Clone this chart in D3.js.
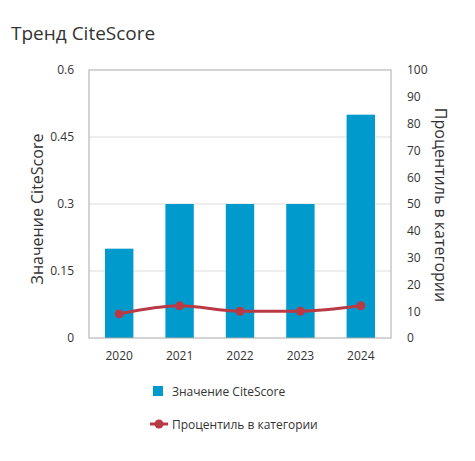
<!DOCTYPE html>
<html>
<head>
  <meta charset='utf-8'>
  <script src='https://d3js.org/d3.v7.min.js'></script>
  <style>
    body { margin: 0; background: #fff; }
    svg text { font-family: 'Open Sans', 'Noto Sans', sans-serif; fill: #333; }
  </style>
</head>
<body>
<script>
  'use strict';
  var years = ['2020', '2021', '2022', '2023', '2024'];
  var citeScore = [0.2, 0.3, 0.3, 0.3, 0.5];
  var percentile = [9, 12, 10, 10, 12];
  var leftTicks = [0, 0.15, 0.3, 0.45, 0.6];
  var rightTicks = [0, 10, 20, 30, 40, 50, 60, 70, 80, 90, 100];

  var W = 475, H = 461;
  var plot = { left: 89, right: 391, top: 70, bottom: 338 };

  var svg = d3.select('body').append('svg')
    .attr('width', W)
    .attr('height', H);

  svg.append('text')
    .attr('x', 11)
    .attr('y', 40)
    .style('font-size', '19px')
    .text('Тренд CiteScore');

  var x = d3.scaleBand().domain(years).range([plot.left, plot.right]).paddingInner(0.53).paddingOuter(0.265);
  var yL = d3.scaleLinear().domain([0, 0.6]).range([plot.bottom, plot.top]);
  var yR = d3.scaleLinear().domain([0, 100]).range([plot.bottom, plot.top]);

  // gridlines
  svg.append('g').selectAll('line')
    .data(leftTicks.slice(1, -1))
    .enter().append('line')
    .attr('x1', plot.left).attr('x2', plot.right)
    .attr('y1', function(d) { return yL(d); })
    .attr('y2', function(d) { return yL(d); })
    .attr('stroke', '#ddd');

  // bars
  svg.append('g').selectAll('rect')
    .data(years)
    .enter().append('rect')
    .attr('x', function(d) { return x(d); })
    .attr('width', x.bandwidth())
    .attr('y', function(d, i) { return yL(citeScore[i]); })
    .attr('height', function(d, i) { return plot.bottom - yL(citeScore[i]); })
    .attr('fill', '#009bcc');

  // border
  svg.append('rect')
    .attr('x', plot.left).attr('y', plot.top)
    .attr('width', plot.right - plot.left)
    .attr('height', plot.bottom - plot.top)
    .attr('fill', 'none')
    .attr('stroke', '#aaa');

  // percentile line
  var line = d3.line()
    .x(function(d, i) { return x(years[i]) + x.bandwidth() / 2; })
    .y(function(d) { return yR(d); })
    .curve(d3.curveMonotoneX);
  svg.append('path')
    .datum(percentile)
    .attr('d', line)
    .attr('fill', 'none')
    .attr('stroke', '#b93a44')
    .attr('stroke-width', 3);
  svg.append('g').selectAll('circle')
    .data(percentile)
    .enter().append('circle')
    .attr('cx', function(d, i) { return x(years[i]) + x.bandwidth() / 2; })
    .attr('cy', function(d) { return yR(d); })
    .attr('r', 4.5)
    .attr('fill', '#b93a44');

  // axes
  var axL = svg.append('g')
    .attr('transform', 'translate(' + (plot.left - 15) + ',0)')
    .call(d3.axisLeft(yL).tickValues(leftTicks).tickSize(0).tickFormat(function(d) { return String(d); }));
  var axR = svg.append('g')
    .attr('transform', 'translate(' + (plot.right + 16) + ',0)')
    .call(d3.axisRight(yR).tickValues(rightTicks).tickSize(0));
  var axX = svg.append('g')
    .attr('transform', 'translate(0,' + (plot.bottom + 10) + ')')
    .call(d3.axisBottom(x).tickSize(0));
  [axL, axR, axX].forEach(function(a) {
    a.select('.domain').remove();
    a.selectAll('text').style('font-size', '12px').style('font-family', null).attr('fill', '#333');
  });
  axL.selectAll('text').attr('x', 0);
  axR.selectAll('text').attr('x', 0);

  svg.append('text')
    .attr('transform', 'translate(43,' + ((plot.top + plot.bottom) / 2 + 5) + ') rotate(-90)')
    .attr('text-anchor', 'middle')
    .style('font-size', '16px')
    .text('Значение CiteScore');
  svg.append('text')
    .attr('transform', 'translate(435,' + ((plot.top + plot.bottom) / 2 + 1) + ') rotate(90)')
    .attr('text-anchor', 'middle')
    .style('font-size', '16px')
    .text('Процентиль в категории');

  // legend
  var lg = svg.append('g');
  lg.append('rect')
    .attr('x', 153).attr('y', 386)
    .attr('width', 10).attr('height', 10)
    .attr('fill', '#009bcc');
  lg.append('text')
    .attr('x', 172).attr('y', 396)
    .style('font-size', '12px')
    .text('Значение CiteScore');
  lg.append('line')
    .attr('x1', 150).attr('x2', 168)
    .attr('y1', 424).attr('y2', 424)
    .attr('stroke', '#b93a44').attr('stroke-width', 3);
  lg.append('circle')
    .attr('cx', 159).attr('cy', 424).attr('r', 4.5)
    .attr('fill', '#b93a44');
  lg.append('text')
    .attr('x', 172).attr('y', 429)
    .style('font-size', '12px')
    .text('Процентиль в категории');
</script>
</body>
</html>
